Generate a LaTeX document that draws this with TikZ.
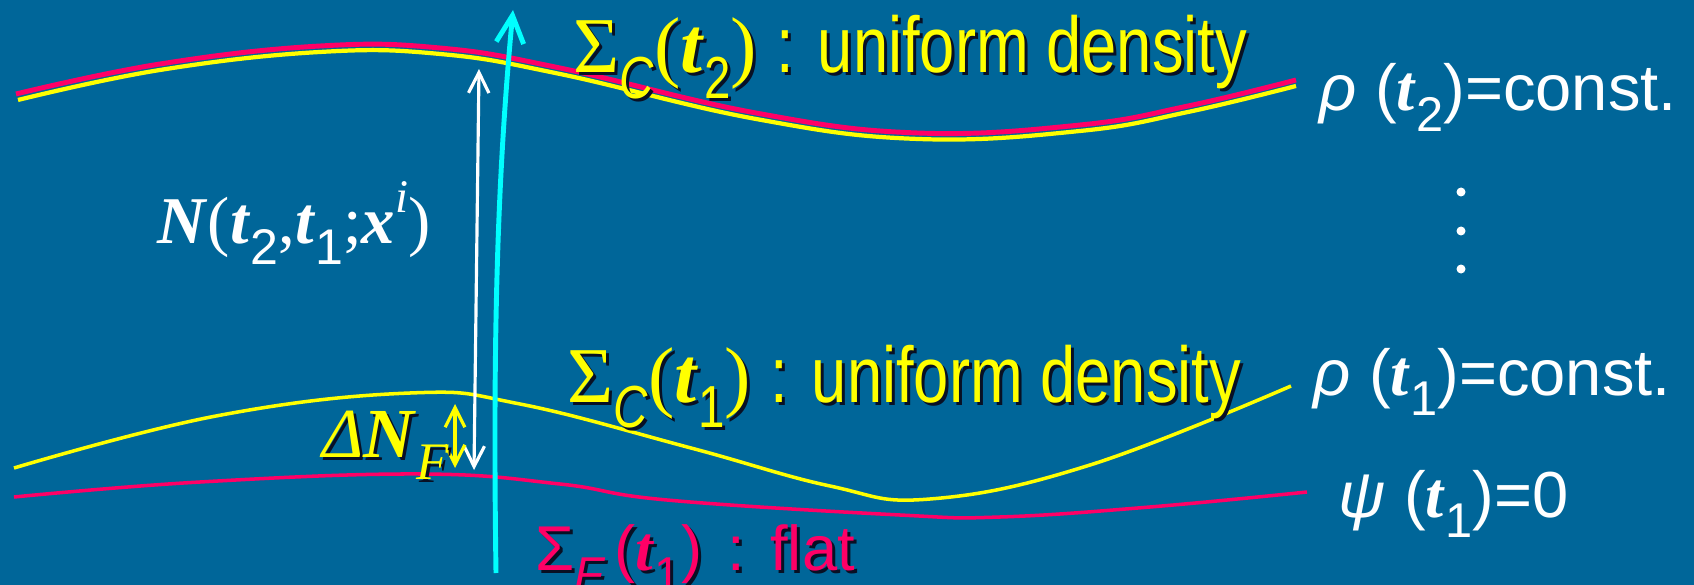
\documentclass[tikz,border=0pt]{standalone}
\usepackage{fontspec}
\usepackage{graphicx}
\setmainfont{Liberation Serif}
\setsansfont{Liberation Sans}
\newfontfamily\condsans[FakeStretch=0.8]{Liberation Sans}
\usetikzlibrary{arrows.meta}

\definecolor{slidebg}{RGB}{0,102,153}
\definecolor{surfred}{RGB}{255,0,102}
\definecolor{surfyellow}{RGB}{255,255,0}
\definecolor{flowcyan}{RGB}{0,255,255}
\definecolor{castcol}{RGB}{8,16,36}

% lowered index
\newcommand\dn[1]{\raisebox{-0.32em}{\scalebox{0.75}{#1}}}
% label with a drop shadow: name, place, style, text
\newcommand\castlabel[4]{%
  \node[#3, text=castcol] at ([shift={(3,3)}]#2) {#4};
  \node[#3] (#1) at (#2) {#4};}

\begin{document}
\begin{tikzpicture}[x=0.01cm, y=-0.01cm,
    % Stile per le etichette
    tag/.style={anchor=base west, inner sep=0pt},
    ytag/.style={tag, text=surfyellow, font=\fontsize{22.5}{27}\selectfont},
    rtag/.style={tag, text=surfred, font=\sffamily\fontsize{18}{22}\selectfont},
    wtag/.style={tag, text=white, font=\sffamily\fontsize{18.5}{22}\selectfont},
    % Stile per le frecce
    barb/.style={-{Straight Barb[length=#1, width=#1]}},
    twobarb/.style={{Straight Barb[length=#1, width=#1]}-{Straight Barb[length=#1, width=#1]}}
  ]

  \fill[slidebg] (0,0) rectangle (1694,585);
  \useasboundingbox (0,0) rectangle (1694,585);

  % --- SUPERFICI ---
  % Sigma_C(t2)
  \draw[surfyellow, line width=1.2pt, yshift=-1.7pt] plot[smooth, tension=0.7] coordinates
    {(18,94) (160,64) (320,46) (440,48) (560,68) (756,113) (918,133) (1080,125) (1188,106) (1296,80)};
  \draw[surfred, line width=1.4pt] plot[smooth, tension=0.7] coordinates
    {(16,94) (160,64) (320,46) (440,48) (560,68) (756,113) (918,133) (1080,125) (1188,106) (1296,80)};

  % Sigma_C(t1)
  \draw[surfyellow, line width=1pt] plot[smooth, tension=0.7] coordinates
    {(14,468) (216,416) (410,393) (520,404) (691,448) (830,486) (930,499) (1090,465) (1291,386)};

  % Sigma_F(t1)
  \draw[surfred, line width=1pt] plot[smooth, tension=0.7] coordinates
    {(14,497) (200,482) (421,474) (560,484) (667,500) (900,515) (1000,517) (1150,507) (1307,492)};

  % --- FRECCE ---
  \coordinate (flowfoot) at (496,573);
  \coordinate (flowtip)  at (513,10);
  \draw[flowcyan, line width=1.4pt, barb=7.8pt]
    (flowfoot) .. controls (492,300) and (500,150) .. (flowtip);

  \coordinate (Ntop) at (479,69);
  \coordinate (Nbot) at (474,470);
  \draw[white, line width=0.9pt, twobarb=5.8pt] (Nbot) -- (Ntop);

  \coordinate (dNtop) at (455,404);
  \coordinate (dNbot) at (455,468);
  \draw[surfyellow, line width=0.9pt, twobarb=5.6pt] (dNbot) -- (dNtop);

  % --- ETICHETTE ---
  \castlabel{sigCtwo}{573,73}{ytag}{Σ\dn{\condsans\itshape C}(\textbf{\itshape t}\dn{\condsans 2}) {\condsans : uniform density}}
  \castlabel{sigCone}{567,402}{ytag}{Σ\dn{\condsans\itshape C}(\textbf{\itshape t}\dn{\condsans 1}) {\condsans : uniform density}}
  \castlabel{sigF}{535,570}{rtag}{Σ\dn{\itshape F}\,(\textbf{\rmfamily\itshape t}\dn{1})\hspace{0.4em}:\hspace{0.4em}flat}
  \castlabel{dNF}{322,457}{ytag, font=\rmfamily\fontsize{20}{24}\selectfont}{\textit{Δ}\textbf{\itshape N}\dn{\itshape F}}

  \node[wtag] (rhotwo) at (1319,111) {\textit{ρ} (\textbf{\rmfamily\itshape t}\dn{2})=const.};
  \node[wtag] (rhoone) at (1313,395) {\textit{ρ} (\textbf{\rmfamily\itshape t}\dn{1})=const.};
  \node[wtag] (psione) at (1338,517) {\textit{ψ} (\textbf{\rmfamily\itshape t}\dn{1})=0};
  \node[tag, text=white, font=\rmfamily\fontsize{19}{23}\selectfont] (Nlab) at (157,243)
    {\textbf{\itshape N}(\textbf{\itshape t}\dn{\sffamily 2},\textbf{\itshape t}\dn{\sffamily 1};\textbf{\itshape x}\raisebox{0.45em}{\scalebox{0.7}{\itshape i}})};

  % puntini verticali
  \foreach \dy in {192,231,269}
    \fill[white] (1461,\dy) circle (4.5);

\end{tikzpicture}
\end{document}
